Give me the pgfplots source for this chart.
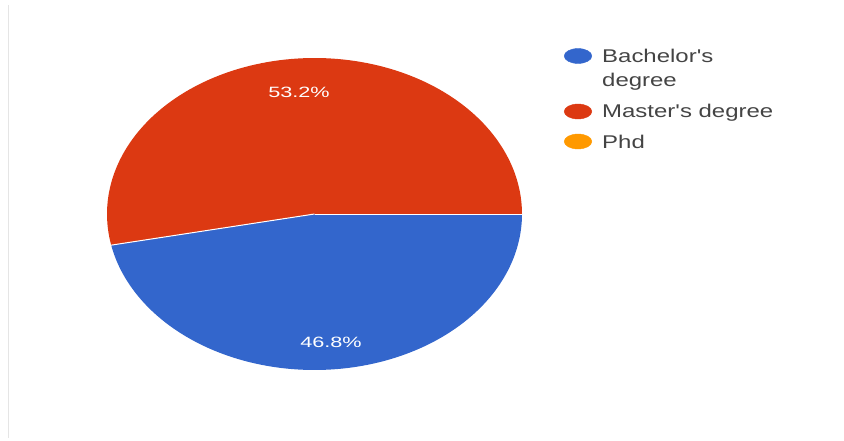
\documentclass[border=0pt]{standalone}
\usepackage{pgfplots}
\pgfplotsset{compat=1.18}
\usepackage{pgfplotstable}
\usepackage{graphicx}
\usepackage{fontspec}
\setmainfont{Liberation Sans}
\definecolor{gblue}{HTML}{3366CC}
\definecolor{gred}{HTML}{DC3912}
\definecolor{gorange}{HTML}{FF9900}
\definecolor{legtext}{HTML}{444444}

\pgfplotstableread{
label value
Bachelor 46.8
Master 53.2
Phd 0
}\piedata
\pgfplotstablegetelem{0}{value}\of\piedata \let\vA\pgfplotsretval
\pgfplotstablegetelem{1}{value}\of\piedata \let\vB\pgfplotsretval
\pgfmathsetmacro\aA{3.6*\vA}
\pgfmathsetmacro\aB{\aA+3.6*\vB}

\begin{document}
\begin{tikzpicture}
\begin{axis}[width=844bp,height=441bp,scale only axis,
  xmin=0,xmax=844,ymin=0,ymax=441,y dir=reverse,
  hide axis,clip=false]
% fix the page to the full frame
\path (axis cs:0,0) rectangle (axis cs:844,441);
% faint screenshot border
\addplot[draw=black!10,line width=1pt] coordinates {(8,5) (8,438)};
% slices
\addplot[fill=gblue,draw=none,domain=0:\aA,samples=120]
  ({314.5+207.5*cos(x)},{214+156*sin(x)}) -- (axis cs:314.5,214) -- cycle;
\addplot[fill=gred,draw=none,domain=\aA:\aB,samples=120]
  ({314.5+207.5*cos(x)},{214+156*sin(x)}) -- (axis cs:314.5,214) -- cycle;
% separators
\addplot[draw=white,line width=1pt,domain=0:\aA,samples=2]
  ({314.5+207.5*cos(x)*(x>0)},{214+156*sin(x)*(x>0)});
\addplot[draw=white,line width=1pt] coordinates {(314.5,214) (522,214)};
% percentage labels
\node[text=white,font=\fontsize{15}{18}\selectfont] at (axis cs:299,92) {\scalebox{1.45}[1]{53.2\%}};
\node[text=white,font=\fontsize{15}{18}\selectfont] at (axis cs:331,342) {\scalebox{1.45}[1]{46.8\%}};
% legend markers
\addplot[only marks,mark=*,color=gblue,mark size=7.5pt,mark options={xscale=1.85,draw=none,fill=gblue}] coordinates {(578,56)};
\addplot[only marks,mark=*,color=gred,mark size=7.5pt,mark options={xscale=1.85,draw=none,fill=gred}] coordinates {(578,111.5)};
\addplot[only marks,mark=*,color=gorange,mark size=7.5pt,mark options={xscale=1.85,draw=none,fill=gorange}] coordinates {(578,141.5)};
% legend text
\node[anchor=base west,text=legtext,font=\fontsize{18.5}{22}\selectfont,inner sep=0pt] at (axis cs:602,63) {\scalebox{1.3}[1]{Bachelor\textquotesingle s}};
\node[anchor=base west,text=legtext,font=\fontsize{18.5}{22}\selectfont,inner sep=0pt] at (axis cs:602,87) {\scalebox{1.3}[1]{degree}};
\node[anchor=base west,text=legtext,font=\fontsize{18.5}{22}\selectfont,inner sep=0pt] at (axis cs:602,117) {\scalebox{1.3}[1]{Master\textquotesingle s degree}};
\node[anchor=base west,text=legtext,font=\fontsize{18.5}{22}\selectfont,inner sep=0pt] at (axis cs:602,148) {\scalebox{1.3}[1]{Phd}};
\end{axis}
\end{tikzpicture}
\end{document}
